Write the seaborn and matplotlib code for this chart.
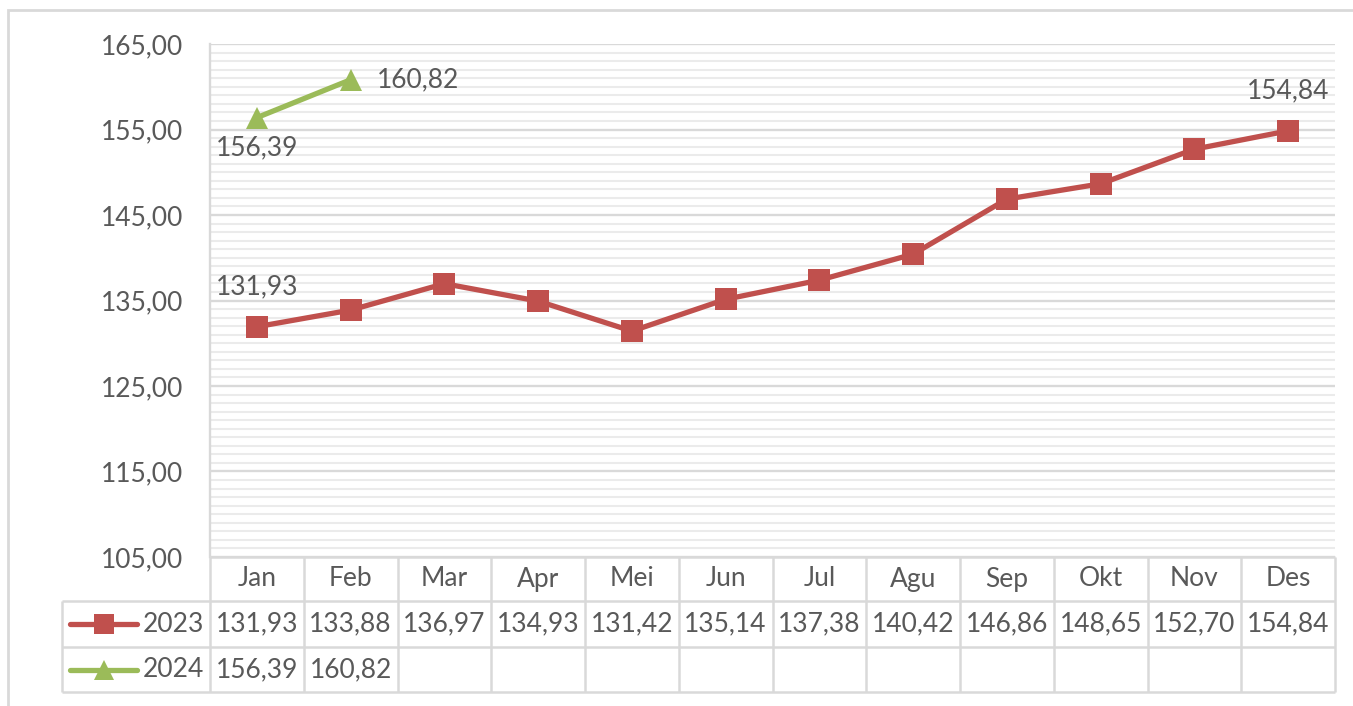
import numpy as np
import pandas as pd
import matplotlib.pyplot as plt
import seaborn as sns
from matplotlib.ticker import MultipleLocator, FixedLocator, FuncFormatter
from matplotlib.patches import Rectangle

months = ["Jan", "Feb", "Mar", "Apr", "Mei", "Jun", "Jul", "Agu", "Sep", "Okt", "Nov", "Des"]
v2023 = [131.93, 133.88, 136.97, 134.93, 131.42, 135.14, 137.38, 140.42, 146.86, 148.65, 152.70, 154.84]
v2024 = [156.39, 160.82]
years = ["2023", "2024"]

red = "#C0504D"
green = "#9BBB59"
txt = "#595959"
grid = "#D9D9D9"
fs = 19

sns.set_style("white")
plt.rcParams["font.family"] = ["Lato", "DejaVu Sans"]

def fmt(v):
    return f"{v:.2f}".replace(".", ",")

df = pd.concat([
    pd.DataFrame({"x": range(len(v2023)), "value": v2023, "year": "2023"}),
    pd.DataFrame({"x": range(len(v2024)), "value": v2024, "year": "2024"}),
])

W, H = 1353, 706
fig = plt.figure(figsize=(W / 100, H / 100), dpi=100)

def box(l, t, r, b):
    return [l / W, 1 - b / H, (r - l) / W, (b - t) / H]

# outer chart border
fig.patches.append(Rectangle((8 / W, -0.1), 1.2, 1 - 10 / H + 0.1, transform=fig.transFigure,
                             fill=False, edgecolor=grid, lw=2))

ax = fig.add_axes(box(210, 44, 1335, 557))
sns.lineplot(data=df, x="x", y="value", hue="year", style="year",
             palette={"2023": red, "2024": green},
             markers={"2023": "s", "2024": "^"}, dashes=False,
             lw=3.8, markersize=16, markeredgewidth=0, legend=False, ax=ax)
ax.set_xlim(-0.5, 11.5)
ax.set_ylim(105, 165)
ax.yaxis.set_major_locator(FixedLocator(np.arange(105, 166, 10)))
ax.yaxis.set_minor_locator(MultipleLocator(1))
ax.yaxis.set_major_formatter(FuncFormatter(lambda v, p: fmt(v)))
ax.grid(which="minor", axis="y", color="#EBEBEB", lw=1.5)
ax.grid(which="major", axis="y", color=grid, lw=1.7)
ax.set_axisbelow(True)
ax.tick_params(axis="y", which="both", length=0, pad=19, labelsize=fs, labelcolor=txt)
ax.set_xticks([])
ax.set_xlabel("")
ax.set_ylabel("")
for s in ["top", "right", "bottom"]:
    ax.spines[s].set_visible(False)
ax.spines["left"].set_color(grid)
ax.spines["left"].set_linewidth(1.7)

lab = dict(fontsize=fs, color=txt, textcoords="offset points", annotation_clip=False)
ax.annotate(fmt(v2023[0]), (0, v2023[0]), xytext=(0, 29), ha="center", va="center", **lab)
ax.annotate(fmt(v2023[-1]), (11, v2023[-1]), xytext=(0, 29), ha="center", va="center", **lab)
ax.annotate(fmt(v2024[0]), (0, v2024[0]), xytext=(0, -22), ha="center", va="center", **lab)
ax.annotate(fmt(v2024[1]), (1, v2024[1]), xytext=(19, 0), ha="left", va="center", **lab)

# data table below the plot
tab = fig.add_axes(box(62, 557, 1335, 692))
left = -0.5 - (210 - 62) / ((1335 - 210) / 12)
tab.set_xlim(left, 11.5)
tab.set_ylim(692, 557)
tab.axis("off")
rows = [557, 601, 647, 692]
lk = dict(color=grid, lw=1.8, clip_on=False)
tab.hlines(rows[0], -0.5, 11.5, **lk)
tab.hlines(rows[1:], left, 11.5, **lk)
tab.vlines(np.arange(-0.5, 12), rows[0], rows[-1], **lk)
tab.vlines(left, rows[1], rows[-1], **lk)

for i, m in enumerate(months):
    tab.text(i, (rows[0] + rows[1]) / 2, m, ha="center", va="center", fontsize=fs, color=txt)
for i, v in enumerate(v2023):
    tab.text(i, (rows[1] + rows[2]) / 2, fmt(v), ha="center", va="center", fontsize=fs, color=txt)
for i, v in enumerate(v2024):
    tab.text(i, (rows[2] + rows[3]) / 2, fmt(v), ha="center", va="center", fontsize=fs, color=txt)

for r, (yr, c, mk) in enumerate(zip(years, [red, green], ["s", "^"])):
    yc = (rows[r + 1] + rows[r + 2]) / 2
    tab.plot([left + 0.09, left + 0.8], [yc, yc], color=c, lw=3.8,
             solid_capstyle="round", clip_on=False)
    tab.plot([left + 0.445], [yc], marker=mk, color=c, markersize=15,
             markeredgewidth=0, clip_on=False)
    tab.text(-0.56, yc, yr, ha="right", va="center", fontsize=fs, color=txt)

fig.savefig("out.png", dpi=100)
